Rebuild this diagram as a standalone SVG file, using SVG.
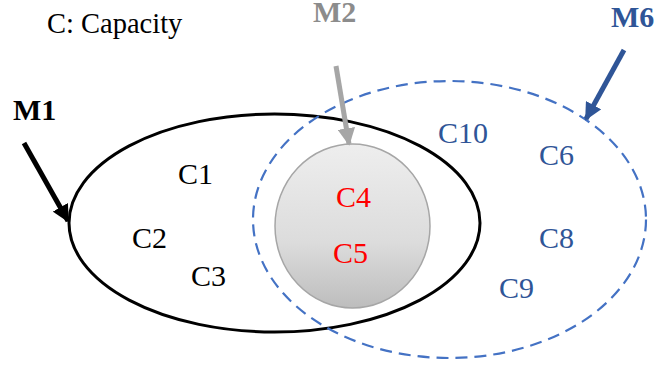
<svg xmlns="http://www.w3.org/2000/svg" width="658" height="367" viewBox="0 0 658 367">
<defs>
<linearGradient id="g" x1="0" y1="0" x2="0" y2="1">
<stop offset="0" stop-color="#eeeeee"/><stop offset="0.6" stop-color="#dcdcdc"/><stop offset="1" stop-color="#bdbdbd"/>
</linearGradient>
<marker id="ab" viewBox="0 0 10 10" refX="9" refY="5" markerWidth="3.5" markerHeight="3.5" orient="auto" markerUnits="strokeWidth"><path d="M0,0 L10,5 L0,10 z" fill="#000"/></marker>
<marker id="ag" viewBox="0 0 10 10" refX="9" refY="5" markerWidth="3.5" markerHeight="3.5" orient="auto" markerUnits="strokeWidth"><path d="M0,0 L10,5 L0,10 z" fill="#a6a6a6"/></marker>
<marker id="au" viewBox="0 0 10 10" refX="9" refY="5" markerWidth="3.5" markerHeight="3.5" orient="auto" markerUnits="strokeWidth"><path d="M0,0 L10,5 L0,10 z" fill="#2f5597"/></marker>
</defs>
<style>
text{font-family:'Liberation Serif','Times New Roman',serif;font-size:30px}
.r{fill:#ff0000}.u{fill:#2f5597}
.t{font-weight:bold;font-size:30px}
</style>
<g font-family="Liberation Serif, serif">
<text x="47" y="33" style="font-size:28.5px">C: Capacity</text>
<g id="M1"><text class="t" x="13" y="120">M1</text></g>
<g id="M2"><text class="t" x="313" y="22" fill="#8c8c8c">M2</text></g>
<g id="M6"><text class="t" x="611" y="27" fill="#2f5597">M6</text></g>
<g id="set1"><ellipse cx="274.5" cy="223" rx="205.5" ry="109" fill="none" stroke="#000" stroke-width="3"/>
<text x="178" y="184">C1</text><text x="132" y="248">C2</text><text x="191" y="286">C3</text></g>
<g id="set6"><ellipse cx="449.5" cy="219.5" rx="196.5" ry="138.5" fill="none" stroke="#4472c4" stroke-width="2.2" stroke-dasharray="12,7"/>
<text class="u" x="438" y="143">C10</text><text class="u" x="539" y="165">C6</text><text class="u" x="539" y="248">C8</text><text class="u" x="499" y="298">C9</text></g>
<g id="set2"><ellipse cx="352.5" cy="226" rx="77.5" ry="82" fill="url(#g)" stroke="#a6a6a6" stroke-width="1.5"/>
<text class="r" x="336" y="207">C4</text><text class="r" x="333" y="263">C5</text></g>
</g>
<g id="connectors">
<line x1="24" y1="143" x2="68" y2="221" stroke="#000" stroke-width="5" marker-end="url(#ab)"/>
<line x1="336" y1="66" x2="349" y2="144" stroke="#a6a6a6" stroke-width="5" marker-end="url(#ag)"/>
<line x1="624" y1="50" x2="586" y2="119" stroke="#2f5597" stroke-width="5" marker-end="url(#au)"/>
</g>
</svg>
